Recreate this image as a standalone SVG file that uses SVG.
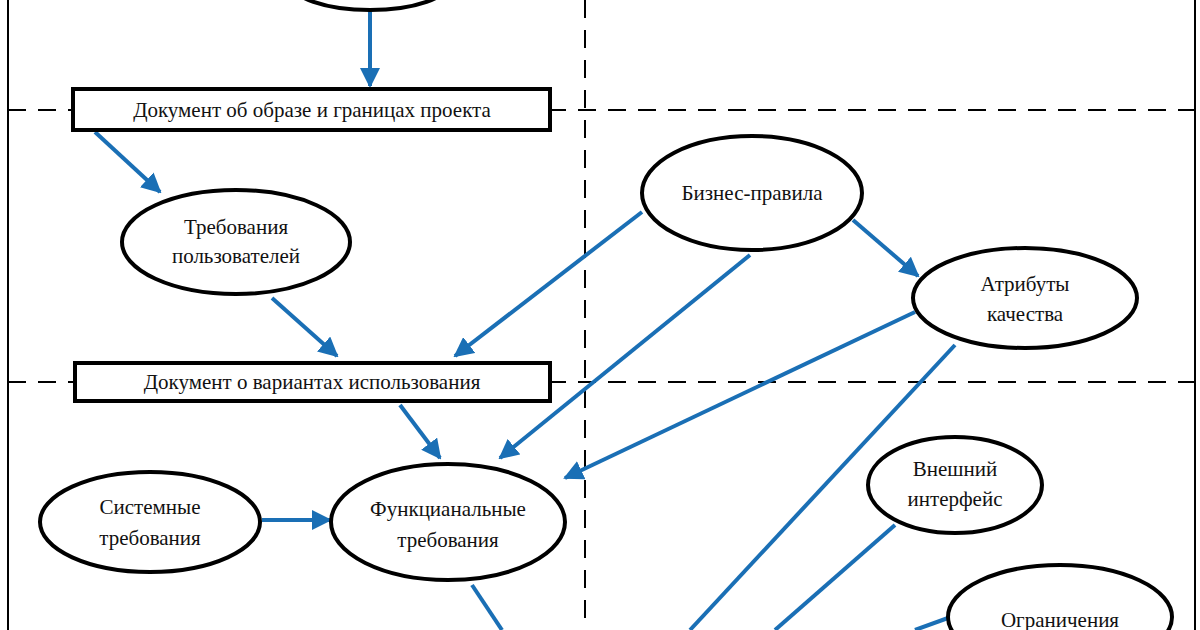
<svg xmlns="http://www.w3.org/2000/svg" width="1200" height="630" viewBox="0 0 1200 630">
<defs>
<marker id="ar" viewBox="0 0 10 10" refX="9" refY="5" markerWidth="5" markerHeight="5" orient="auto" markerUnits="strokeWidth"><path d="M0,0 L10,5 L0,10 z" fill="#1a6fb5"/></marker>
</defs>
<style>
.n{fill:#fff;stroke:#000;stroke-width:4}
.d{stroke:#000;stroke-width:2;stroke-dasharray:18,12;fill:none}
.c{stroke:#1a6fb5;stroke-width:4;fill:none}
.a{marker-end:url(#ar)}
text{font-family:"Liberation Serif",serif;font-size:21px;text-anchor:middle;fill:#111}
</style>
<rect width="1200" height="630" fill="#fff"/>
<g id="frame">
<line x1="8" y1="0" x2="8" y2="630" stroke="#000" stroke-width="2"/>
<line x1="1195" y1="0" x2="1195" y2="630" stroke="#000" stroke-width="2"/>
<line class="d" x1="8" y1="110" x2="1195" y2="110"/>
<line class="d" x1="8" y1="382" x2="1195" y2="382"/>
<line class="d" x1="585" y1="0" x2="585" y2="630"/>
</g>
<g id="connectors">
<line class="c a" x1="370" y1="10" x2="370" y2="86"/>
<line class="c a" x1="95" y1="132" x2="160" y2="192"/>
<line class="c a" x1="272" y1="298" x2="337" y2="356"/>
<line class="c a" x1="642" y1="212" x2="455" y2="356"/>
<line class="c a" x1="853" y1="220" x2="918" y2="276"/>
<line class="c a" x1="750" y1="255" x2="500" y2="458"/>
<line class="c a" x1="915" y1="312" x2="565" y2="478"/>
<line class="c" x1="955" y1="345" x2="690" y2="630"/>
<line class="c a" x1="400" y1="405" x2="440" y2="458"/>
<line class="c a" x1="262" y1="520" x2="330" y2="520"/>
<line class="c" x1="472" y1="585" x2="502" y2="630"/>
<line class="c" x1="895" y1="525" x2="775" y2="630"/>
<line class="c" x1="948" y1="618" x2="915" y2="630"/>
</g>
<g id="top"><ellipse class="n" cx="370" cy="-18" rx="80" ry="28"/></g>
<g id="doc1"><rect class="n" x="73" y="89" width="477" height="41"/><text x="312" y="117">Документ об образе и границах проекта</text></g>
<g id="user"><ellipse class="n" cx="236" cy="242" rx="114" ry="52"/><text x="236" y="234">Требования</text><text x="236" y="263">пользователей</text></g>
<g id="doc2"><rect class="n" x="75" y="363" width="475" height="38"/><text x="312" y="389">Документ о вариантах использования</text></g>
<g id="biz"><ellipse class="n" cx="752" cy="193" rx="110" ry="57"/><text x="752" y="200">Бизнес-правила</text></g>
<g id="attr"><ellipse class="n" cx="1025" cy="298" rx="112" ry="50"/><text x="1025" y="291">Атрибуты</text><text x="1025" y="321">качества</text></g>
<g id="func"><ellipse class="n" cx="448" cy="522" rx="117" ry="58"/><text x="448" y="516">Функцианальные</text><text x="448" y="547">требования</text></g>
<g id="sys"><ellipse class="n" cx="150" cy="522" rx="110" ry="50"/><text x="150" y="514">Системные</text><text x="150" y="545">требования</text></g>
<g id="ext"><ellipse class="n" cx="955" cy="485" rx="87" ry="48"/><text x="955" y="476">Внешний</text><text x="955" y="506">интерфейс</text></g>
<g id="lim"><ellipse class="n" cx="1060" cy="617" rx="112" ry="52"/><text x="1060" y="627">Ограничения</text></g>
</svg>
